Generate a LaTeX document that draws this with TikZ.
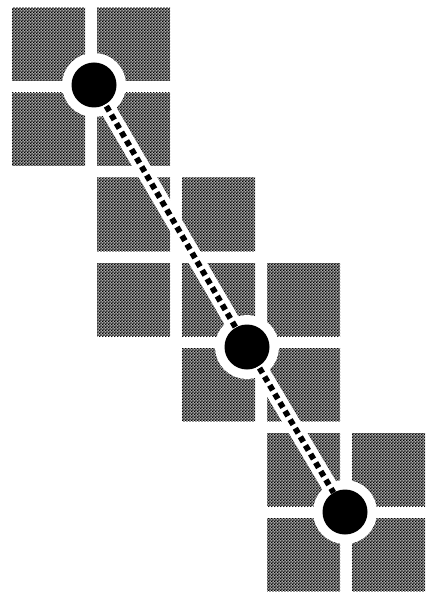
\documentclass[tikz,border=0pt]{standalone}
\usetikzlibrary{patterns}
\pgfdeclarepatternformonly{finechecker}{\pgfpointorigin}{\pgfqpoint{3.2pt}{3.2pt}}{\pgfqpoint{3.2pt}{3.2pt}}{%
  \pgfpathrectangle{\pgfpointorigin}{\pgfqpoint{1.7pt}{1.7pt}}%
  \pgfpathrectangle{\pgfqpoint{1.6pt}{1.6pt}}{\pgfqpoint{1.7pt}{1.7pt}}%
  \pgfusepath{fill}}
\begin{document}
\begin{tikzpicture}[x=1pt,y=-1pt,
  tile/.style={rectangle, anchor=north west, minimum width=73pt, minimum height=73pt,
    inner sep=0pt, outer sep=0pt, pattern=finechecker, pattern color=black,
    preaction={fill=black!35}},
  stopnode/.style={circle, fill=black, minimum size=45pt, inner sep=0pt, outer sep=0pt,
    preaction={draw=white, line width=19pt}},
  band/.style={draw=white, line width=16pt},
  dotline/.style={draw=black, line width=5.8pt, dash pattern=on 5.8pt off 4.2pt, dash phase=-2pt}]
\useasboundingbox (0,0) rectangle (428,593);
\foreach \r/\c in {0/0,0/1,1/0,1/1,2/1,2/2,3/1,3/2,3/3,4/2,4/3,5/3,5/4,6/3,6/4}
  \node[tile] (s\r\c) at ({12+85*\c},{8+85*\r}) {};
\node[stopnode] (c1) at (94,85) {};
\node[stopnode] (c2) at (247,347) {};
\node[stopnode] (c3) at (345,512) {};
\draw[band] (c1) -- (c2);
\draw[band] (c2) -- (c3);
\draw[dotline] (c1) -- (c2);
\draw[dotline] (c2) -- (c3);
\end{tikzpicture}
\end{document}
